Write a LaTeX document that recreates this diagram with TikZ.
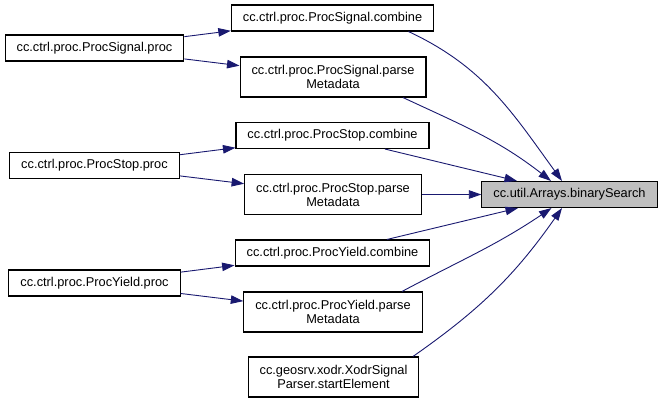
\documentclass[tikz,border=0pt]{standalone}
\usepackage{fontspec}
\setmainfont{Liberation Sans}
\usepackage{xcolor}
\usepackage{tikz}
\usetikzlibrary{arrows.meta}
\definecolor{edgeblue}{HTML}{191970}
\definecolor{focusgray}{HTML}{BFBFBF}

\begin{document}
\begin{tikzpicture}[
    x=1pt,y=1pt,
    font=\fontsize{12.8}{14}\selectfont,
    func/.style={draw,line width=1.1pt,fill=white,inner xsep=11.5pt,
      inner ysep=1pt,minimum height=26pt,align=center},
    funclong/.style={func,minimum height=40pt},
    call/.style={edgeblue,line width=0.9pt,
      -{Triangle[length=12.5pt,width=8.5pt]}},
  ]
    \useasboundingbox (0,0) rectangle (663,-403);

    \node[func,fill=focusgray] (search) at (569.5,-194.5) {cc.util.Arrays.binarySearch};

    \foreach \grp/\y in {Signal/0,Stop/117.5,Yield/235} {
      \node[func] (proc\grp) at (94.5,-48-\y) {cc.ctrl.proc.Proc\grp.proc};
      \node[func] (comb\grp) at (332.5,-18-\y) {cc.ctrl.proc.Proc\grp.combine};
      \node[funclong] (parse\grp) at (333,-77-\y) {cc.ctrl.proc.Proc\grp.parse\\Metadata};
      \draw[call] (proc\grp) -- (comb\grp);
      \draw[call] (proc\grp) -- (parse\grp);
    }
    \node[funclong] (xodr) at (333.5,-377) {cc.geosrv.xodr.XodrSignal\\Parser.startElement};

    \draw[call] ([xshift=76pt]combSignal.south) to[out=-25,in=126] ([xshift=-7.5pt]search.north);
    \draw[call] ([xshift=70pt]parseSignal.south) to[out=-25,in=142] ([xshift=-18.5pt]search.north);
    \draw[call] ([xshift=52.5pt]combStop.south) -- ([xshift=-52.5pt]search.north);
    \draw[call] (parseStop) -- (search);
    \draw[call] ([xshift=54.5pt]combYield.north) -- ([xshift=-51.5pt]search.south);
    \draw[call] ([xshift=69pt]parseYield.north) to[out=28,in=-146] ([xshift=-18pt]search.south);
    \draw[call] ([xshift=79.5pt]xodr.north) to[out=35,in=-125] ([xshift=-7.5pt]search.south);
  \end{tikzpicture}
\end{document}
